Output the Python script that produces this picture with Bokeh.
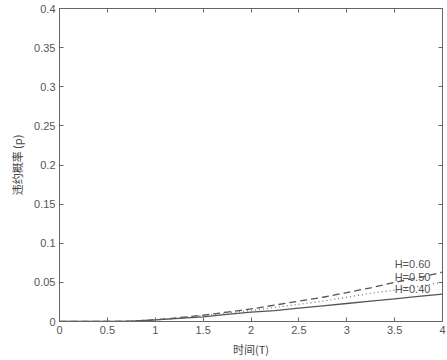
from bokeh.plotting import figure
from bokeh.models import FixedTicker, LinearAxis, Range1d
from bokeh.core.properties import value
from bokeh.embed import file_html
from bokeh.resources import INLINE

# data
t = [0, 0.25, 0.5, 0.75, 1.0, 1.25, 1.5, 1.75, 2.0, 2.25, 2.5, 2.75, 3.0, 3.25, 3.5, 3.75, 4.0]
p_h60 = [0, 0, 0, 0.0005, 0.002, 0.005, 0.008, 0.012, 0.016, 0.021, 0.026, 0.031, 0.037, 0.043, 0.050, 0.056, 0.063]
p_h50 = [0, 0, 0, 0.0005, 0.002, 0.0045, 0.0075, 0.011, 0.014, 0.018, 0.022, 0.026, 0.031, 0.036, 0.040, 0.045, 0.050]
p_h40 = [0, 0, 0, 0.0005, 0.002, 0.004, 0.006, 0.009, 0.012, 0.014, 0.017, 0.020, 0.023, 0.026, 0.029, 0.032, 0.035]

labels = ["H=0.60", "H=0.50", "H=0.40"]
label_x = [3.5, 3.5, 3.5]
label_y = [0.073, 0.057, 0.041]

x_ticks = [0, 0.5, 1, 1.5, 2, 2.5, 3, 3.5, 4]
x_tick_labels = ["0", "0.5", "1", "1.5", "2", "2.5", "3", "3.5", "4"]
y_ticks = [0, 0.05, 0.1, 0.15, 0.2, 0.25, 0.3, 0.35, 0.4]
y_tick_labels = ["0", "0.05", "0.1", "0.15", "0.2", "0.25", "0.3", "0.35", "0.4"]

grey = "#555555"
font = "Liberation Sans"
cjk = "Noto Sans CJK SC"

p = figure(frame_width=383, frame_height=313, output_backend="svg", toolbar_location=None,
           x_range=Range1d(0, 4), y_range=Range1d(0, 0.4),
           min_border_left=59, min_border_right=4, min_border_top=8, min_border_bottom=30)
p.background_fill_color = "white"
p.border_fill_color = "white"
p.outline_line_color = "#666666"
p.outline_line_width = 1
p.xgrid.visible = False
p.ygrid.visible = False

for ax, ticks, tl in [(p.xaxis[0], x_ticks, x_tick_labels), (p.yaxis[0], y_ticks, y_tick_labels)]:
    ax.ticker = FixedTicker(ticks=ticks)
    ax.major_label_overrides = {tk: s for tk, s in zip(ticks, tl)}
    ax.minor_tick_line_color = None
    ax.major_tick_in = 4
    ax.major_tick_out = 0
    ax.major_tick_line_color = "#666666"
    ax.axis_line_color = "#666666"
    ax.major_label_text_font = font
    ax.major_label_text_font_size = "11px"
    ax.major_label_text_color = grey
    ax.major_label_standoff = 4
    ax.axis_label_text_font = cjk
    ax.axis_label_text_font_size = "11px"
    ax.axis_label_text_font_style = "normal"
    ax.axis_label_text_color = "#444444"

p.xaxis.axis_label = "时间(T)"
p.xaxis.axis_label_standoff = 4
p.yaxis.axis_label = "违约概率 (p)"
p.yaxis.axis_label_standoff = 6

# mirrored tick marks on top and right (no labels)
for loc, ticks in [("above", x_ticks), ("right", y_ticks)]:
    a = LinearAxis(ticker=FixedTicker(ticks=ticks), major_label_overrides={tk: "" for tk in ticks},
                   major_label_text_font_size="6px",
                   major_label_standoff=0, minor_tick_line_color=None,
                   major_tick_in=4, major_tick_out=0, major_tick_line_color="#666666",
                   axis_line_color=None)
    p.add_layout(a, loc)

p.line(t, p_h60, line_color=grey, line_width=1.3, line_dash="7 4")
p.line(t, p_h50, line_color="#777777", line_width=1.3, line_dash="1 3")
p.line(t, p_h40, line_color=grey, line_width=1.3)

p.text(x=label_x, y=label_y, text=labels, text_font=value(font), text_font_size="11px",
       text_color=grey, text_baseline="middle", text_align="left")

open("out.html", "w").write(file_html(p, INLINE))
